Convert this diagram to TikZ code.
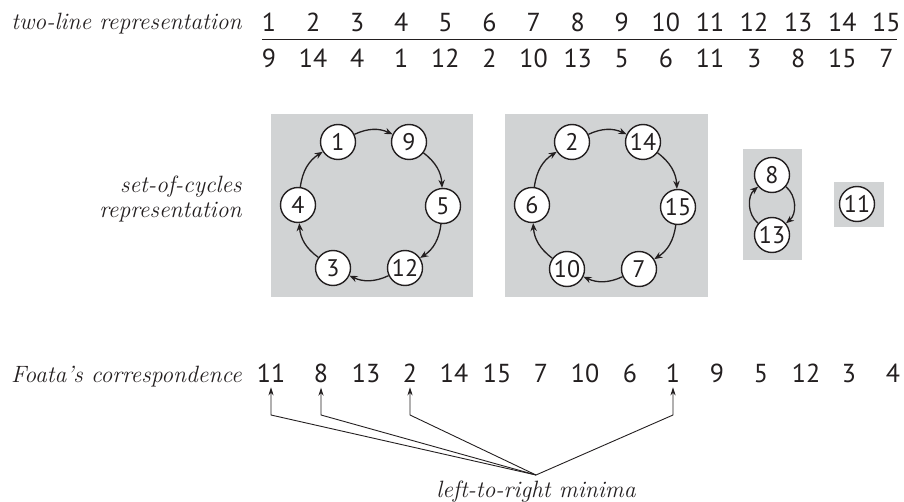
\documentclass[tikz,border=0pt]{standalone}
\usepackage{fontspec}
\newfontfamily\numfont{PT Sans}
\usetikzlibrary{arrows.meta}
\definecolor{boxgray}{RGB}{209,211,212}
\definecolor{ink}{RGB}{35,31,32}
\begin{document}
\begin{tikzpicture}[x=0.5pt,y=-0.5pt,
  lab/.style={font=\fontsize{11.8}{14}\selectfont\itshape, text=ink, inner sep=0},
  num/.style={font=\numfont\fontsize{13}{15}\selectfont, text=ink, inner sep=0},
  cyc/.style={circle, draw=ink, fill=white, line width=0.7pt, minimum size=17.5pt, inner sep=0,
    font=\numfont\fontsize{12}{14}\selectfont, text=ink},
  bg/.style={fill=boxgray, draw=none},
  cycarrow/.style={-{Stealth[length=4pt,width=3.2pt]}, line width=0.65pt, draw=ink},
  pointer/.style={-{Stealth[length=4pt,width=2.6pt]}, line width=0.45pt, draw=ink},
  rule/.style={line width=0.5pt, draw=ink},
]
\useasboundingbox (0,0) rectangle (904,502);

% two-line representation
\node[lab, anchor=base east] (tl) at (242,30) {two-line representation};
\foreach \t/\b [count=\k] in {1/9,2/14,3/4,4/1,5/12,6/2,7/10,8/13,9/5,10/6,11/11,12/3,13/8,14/15,15/7} {
  \pgfmathsetmacro\xx{269+(\k-1)*44.1}
  \node[num, anchor=base] (t\k) at (\xx,32) {\t};
  \node[num, anchor=base] (b\k) at (\xx,68) {\b};
}
\coordinate (ruleL) at (262,40);
\coordinate (ruleR) at (897,40);
\draw[rule] (ruleL) -- (ruleR);

% set-of-cycles representation
\node[lab, anchor=base east] (sc1) at (242,193) {set-of-cycles};
\node[lab, anchor=base east] (sc2) at (242,218) {representation};

\fill[bg] (271,114) rectangle (473,297);
\fill[bg] (505,114) rectangle (708,297);
\fill[bg] (743,149) rectangle (802,260);
\fill[bg] (834,182) rectangle (884,227);

\node[cyc] (c1) at (338,142) {1};
\node[cyc] (c9) at (409,142) {9};
\node[cyc] (c5) at (443,206) {5};
\node[cyc] (c12) at (405,268) {12};
\node[cyc] (c3) at (333,268) {3};
\node[cyc] (c4) at (298,205) {4};
\foreach \a/\b in {c1/c9,c9/c5,c5/c12,c12/c3,c3/c4,c4/c1}
  \draw[cycarrow] (\a) to[bend left=25] (\b);

\node[cyc] (c2) at (572,142) {2};
\node[cyc] (c14) at (643,142) {14};
\node[cyc] (c15) at (678,207) {15};
\node[cyc] (c7) at (639,269) {7};
\node[cyc] (c10) at (567,269) {10};
\node[cyc] (c6) at (532,205) {6};
\foreach \a/\b in {c2/c14,c14/c15,c15/c7,c7/c10,c10/c6,c6/c2}
  \draw[cycarrow] (\a) to[bend left=25] (\b);

\node[cyc] (c8) at (772,175) {8};
\node[cyc] (c13) at (772,235) {13};
\draw[cycarrow] (c8) to[bend left=50] (c13);
\draw[cycarrow] (c13) to[bend left=50] (c8);

\node[cyc] (c11) at (857,204) {11};

% Foata's correspondence
\node[lab, anchor=base east] (fc) at (242,382) {Foata’s correspondence};
\foreach \v/\x [count=\k] in {11/271,8/321,13/366,2/410,14/454,15/497,7/541,10/585,6/630,1/673,9/717,5/761,12/806,3/849,4/893} {
  \node[num, anchor=base] (f\k) at (\x,382) {\v};
}
\coordinate (meet) at (536,475);
\node[lab, anchor=base] (ltr) at (536,497) {left-to-right minima};
\foreach \k in {1,2,4,10}
  \draw[pointer] (meet) -- (f\k.south |- 0,415) -- ([yshift=-2.5pt]f\k.south);
\end{tikzpicture}
\end{document}
